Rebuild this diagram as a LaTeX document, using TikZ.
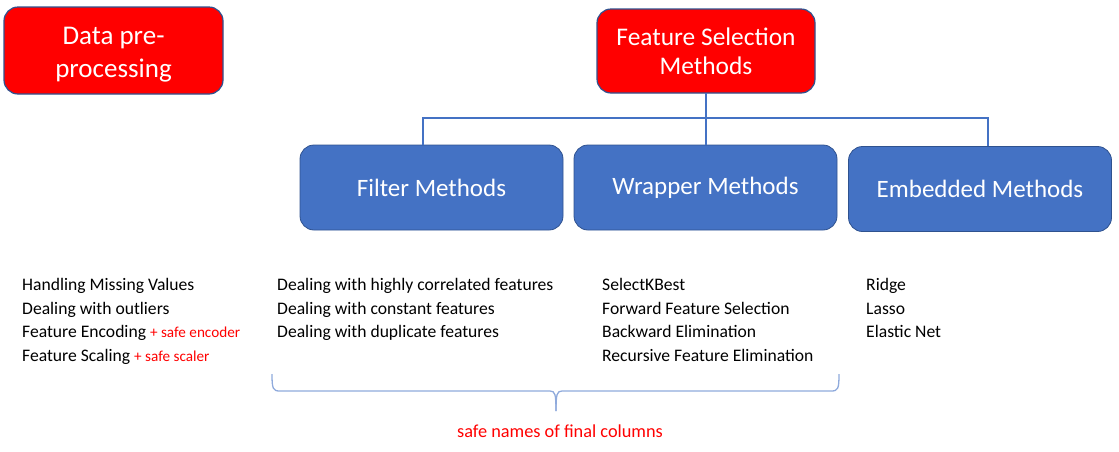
\documentclass[tikz,border=0pt]{standalone}
\usepackage{fontspec}
\setmainfont{Carlito}
\definecolor{bred}{HTML}{FF0000}
\definecolor{bblue}{HTML}{4472C4}
\definecolor{bedge}{HTML}{2F528F}
\definecolor{brace}{HTML}{8FAADC}
\begin{document}
\begin{tikzpicture}[x=1pt,y=-1pt,
  redbox/.style={draw=bedge,line width=1.2pt,fill=bred,rounded corners=14pt,text=white,align=center,inner sep=0pt},
  bluebox/.style={draw=bedge,line width=0.8pt,fill=bblue,rounded corners=14pt,text=white,align=center,inner sep=0pt,minimum width=263pt,minimum height=85pt,font=\fontsize{25}{30}\selectfont},
  item/.style={anchor=base west,inner sep=0pt,font=\fontsize{17.6}{20}\selectfont},
  note/.style={text=bred,font=\fontsize{18.3}{22}\selectfont},
  conn/.style={draw=bblue,line width=1.6pt}]
\useasboundingbox (0,0) rectangle (1119,451);
\node[redbox,minimum width=219pt,minimum height=87pt,font=\fontsize{27}{33}\selectfont] (dp) at (113.5,50.5)
  {\raisebox{-4pt}[\height][\depth]{\begin{tabular}{@{}c@{}}Data pre-\\processing\end{tabular}}};
\node[redbox,minimum width=218pt,minimum height=84pt,font=\fontsize{25.4}{29}\selectfont] (fs) at (706,51) {Feature Selection\\Methods};
\coordinate (fsb) at (706,93);
\node[bluebox] (fm) at (431.5,187.5) {Filter Methods};
\node[bluebox] (wm) at (705.5,187.5) {Wrapper Methods};
\node[bluebox] (em) at (980,189) {Embedded Methods};
\coordinate (j) at (706,118);
\draw[conn] (fsb) -- (wm.north -| fsb);
\draw[conn] (fm.north -| 423,0) |- (j) -| (em.north -| 988,0);
% lists
\node[item] (a1) at (22,290) {Handling Missing Values};
\node[item] (a2) at (22,314) {Dealing with outliers};
\node[item] (a3) at (22,337) {Feature Encoding \textcolor{bred}{\fontsize{15.2}{18}\selectfont+ safe encoder}};
\node[item] (a4) at (22,361) {Feature Scaling \textcolor{bred}{\fontsize{15.2}{18}\selectfont+ safe scaler}};
\node[item] (b1) at (277,290) {Dealing with highly correlated features};
\node[item] (b2) at (277,314) {Dealing with constant features};
\node[item] (b3) at (277,337) {Dealing with duplicate features};
\node[item] (c1) at (602,290) {SelectKBest};
\node[item] (c2) at (602,314) {Forward Feature Selection};
\node[item] (c3) at (602,337) {Backward Elimination};
\node[item] (c4) at (602,361) {Recursive Feature Elimination};
\node[item] (d1) at (866,290) {Ridge};
\node[item] (d2) at (866,314) {Lasso};
\node[item] (d3) at (866,337) {Elastic Net};
% brace
\coordinate (bl) at (272,374);
\coordinate (br) at (839,374);
\coordinate (bt) at (556,411);
\draw[draw=brace,line width=1.3pt] (bl) .. controls (272,389) and (273,391) .. (280,391)
  -- (550,391) .. controls (555,391) and (556,394) .. (bt);
\draw[draw=brace,line width=1.3pt] (br) .. controls (839,389) and (838,391) .. (831,391)
  -- (562,391) .. controls (557,391) and (556,394) .. (bt);
\node[note] (lbl) at (560,431) {safe names of final columns};
\end{tikzpicture}
\end{document}
